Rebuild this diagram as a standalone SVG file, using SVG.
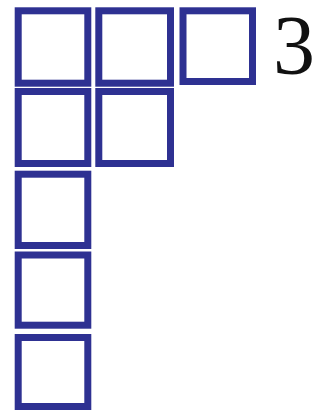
<svg xmlns="http://www.w3.org/2000/svg" width="323" height="410" viewBox="0 0 323 410">
<style>
.b{fill:none;stroke:#2e3192;stroke-width:7}
.t{font-family:"Liberation Serif",serif;font-size:84px;fill:#111}
</style>
<rect width="323" height="410" fill="#fff"/>
<g id="r1c1"><rect class="b" x="18.2" y="10.8" width="69.6" height="72.4"/></g>
<g id="r1c2"><rect class="b" x="98.8" y="10.8" width="71.7" height="72.4"/></g>
<g id="r1c3"><rect class="b" x="183" y="10.8" width="69.5" height="70.7"/></g>
<g id="r2c1"><rect class="b" x="18.2" y="91.5" width="69.6" height="72"/></g>
<g id="r2c2"><rect class="b" x="98.8" y="91.5" width="71.7" height="72"/></g>
<g id="r3c1"><rect class="b" x="18.2" y="174.2" width="69.6" height="71.3"/></g>
<g id="r4c1"><rect class="b" x="18.2" y="255" width="69.6" height="70.2"/></g>
<g id="r5c1"><rect class="b" x="18.2" y="337.5" width="69.6" height="69"/></g>
<g id="label"><text class="t" x="273" y="74">3</text></g>
<g id="connectors"/>
</svg>
